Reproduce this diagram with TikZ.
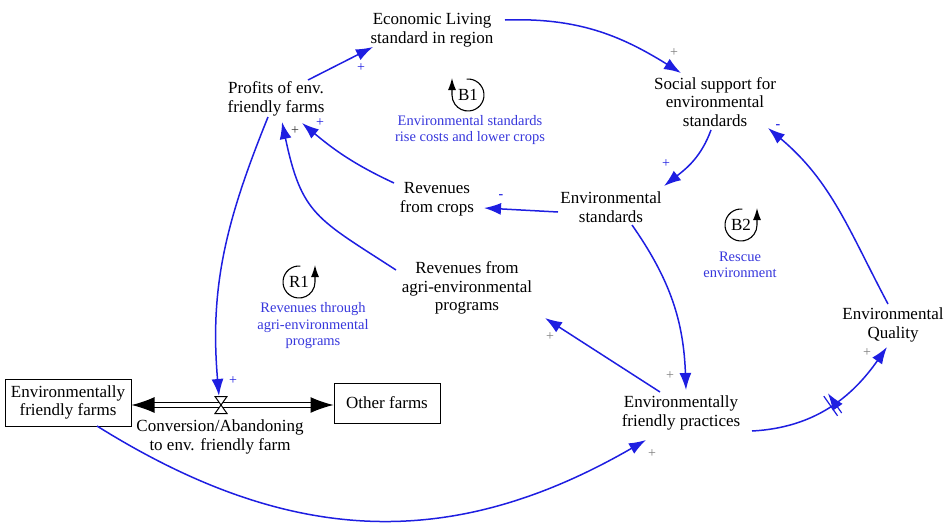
\documentclass[tikz,border=0pt]{standalone}
\usepackage{fontspec}
\setmainfont{Liberation Serif}
\usetikzlibrary{arrows.meta,calc,decorations.markings}
\definecolor{cldblue}{RGB}{30,30,225}
\definecolor{lblblue}{RGB}{55,55,220}
\definecolor{polgray}{RGB}{125,125,125}
\begin{document}
\begin{tikzpicture}[x=1pt,y=1pt,
  var/.style={align=center, font=\fontsize{17}{18.5}\selectfont, inner sep=1pt},
  stock/.style={draw, line width=1pt, align=center, font=\fontsize{17}{18.5}\selectfont, inner sep=2pt},
  link/.style={draw=cldblue, line width=1.5pt, -{Latex[length=17pt,width=12pt]}},
  pol/.style={font=\fontsize{14}{14}\selectfont, text=polgray, inner sep=0pt},
  polb/.style={pol, text=cldblue},
  looptxt/.style={align=center, text=lblblue, font=\fontsize{14.5}{16.5}\selectfont},
  loopid/.style={font=\fontsize{17}{17}\selectfont, inner sep=0pt},
  looparc/.style={line width=1.1pt, -{Latex[length=12pt,width=8pt]}},
  pipe/.style={draw=black, double=white, line width=1.2pt, double distance=3.5pt, -{Latex[length=23pt,width=16pt]}}
]
\useasboundingbox (0,0) rectangle (948,-525);

% variables
\node[var] (eco) at (432,-30) {Economic Living\\standard in region};
\node[var] (prof) at (276,-99) {Profits of env.\\friendly farms};
\node[var] (soc) at (715,-102) {Social support for\\environmental\\standards};
\node[var] (envst) at (611,-207) {Environmental\\standards};
\node[var] (revc) at (437,-199) {Revenues\\from crops};
\node[var] (reva) at (467,-288) {Revenues from\\agri-environmental\\programs};
\node[var] (efp) at (681,-413) {Environmentally\\friendly practices};
\node[var] (eq) at (893,-325) {Environmental\\Quality};
\node[stock, minimum width=126, minimum height=47] (eff) at (68,-402.5) {Environmentally\\friendly farms};
\node[stock, minimum width=106, minimum height=40] (oth) at (387,-403) {Other farms};
\coordinate (valve) at (221,-405);
\node[var] (conv) at (220,-437) {Conversion/Abandoning\\to env. friendly farm};

% flow
\draw[pipe] (valve) -- (oth.west |- valve);
\draw[pipe] (valve) -- (eff.east |- valve);
\draw[line width=1pt, fill=white] ($(valve)+(-6,8.5)$) -- ($(valve)+(6,8.5)$) -- ($(valve)+(-6,-8.5)$) -- ($(valve)+(6,-8.5)$) -- cycle;

% loop markers
\node[loopid] (b1) at (468,-95) {B1};
\draw[looparc] ($(b1.center)+(95:16)$) arc[start angle=95, end angle=-180, radius=16] -- ++(0,17);
\node[looptxt] (b1t) at (470,-130) {Environmental standards\\rise costs and lower crops};

\node[loopid] (r1) at (299,-282) {R1};
\draw[looparc] ($(r1.center)+(85:16)$) arc[start angle=85, end angle=360, radius=16] -- ++(0,17);
\node[looptxt] (r1t) at (313,-326) {Revenues through\\agri-environmental\\programs};

\node[loopid] (b2) at (741,-225) {B2};
\draw[looparc] ($(b2.center)+(85:16)$) arc[start angle=85, end angle=360, radius=16] -- ++(0,17);
\node[looptxt] (b2t) at (740,-265) {Rescue\\environment};

% causal links
\draw[link] ($(prof.center)+(32,19)$) -- ($(eco.center)+(-59,-17)$);
\draw[link] ($(eco.center)+(73,10)$) to[out=2,in=148] ($(soc.center)+(-34,29)$);
\draw[link] ($(soc.center)+(-4,-28)$) to[out=-110,in=38] ($(envst.center)+(53,21)$);
\draw[link] ($(envst.center)+(-53,-5)$) -- ($(revc.center)+(47,-9)$);
\draw[link] ($(revc.center)+(-43,16)$) to[out=155,in=-40] ($(prof.center)+(26,-24)$);
\draw[link] ($(reva.center)+(-71,18)$) to[out=147,in=-78,looseness=1.3] ($(prof.center)+(6,-23)$);
\draw[link] ($(prof.center)+(-8,-18)$) to[out=-112,in=95] ($(valve)+(-2,9)$);
\draw[link] ($(eff.center)+(29,-23.5)$) to[out=-32,in=-150,looseness=1.05] ($(efp.center)+(-35,-27)$);
\draw[link] ($(efp.center)+(-21,21)$) -- ($(reva.center)+(78,-30)$);
\draw[link] ($(envst.center)+(21,-18)$) to[out=-55,in=92] ($(efp.center)+(5,23)$);
\draw[link, postaction={decorate}, decoration={markings, mark=at position 0.52 with {\draw[cldblue, line width=1.2pt] (-2.5,-12) -- (-2.5,12) (2.5,-12) -- (2.5,12);}}]
  ($(efp.center)+(71,-18)$) to[out=3,in=-125] ($(eq.center)+(-6,-22)$);
\draw[link] ($(eq.center)+(-5,21)$) to[out=118,in=-40] ($(soc.center)+(53,-26)$);

% polarities
\node[polb] (pa) at (361,-68) {+};
\node[pol] (pb) at (674,-53) {+};
\node[polb] (pc) at (666,-164) {+};
\node[polb] (pd) at (501,-197) {\textbf{-}};
\node[polb] (pe) at (320,-123) {+};
\node[pol, text=black!80] (pf) at (295,-131) {+};
\node[polb] (pg) at (233,-381) {+};
\node[pol] (ph) at (652,-454) {+};
\node[pol] (pi) at (550,-337) {+};
\node[pol] (pj) at (670,-376) {+};
\node[pol] (pk) at (867,-353) {+};
\node[polb] (pl) at (778,-127) {\textbf{-}};
\end{tikzpicture}
\end{document}
